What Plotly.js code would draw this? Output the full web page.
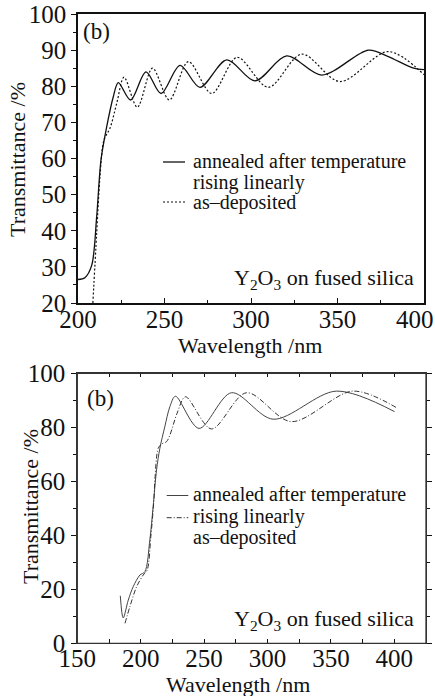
<!DOCTYPE html>
<html>
<head>
<meta charset="utf-8">
<script src="https://cdn.plot.ly/plotly-3.0.1.min.js"></script>
<style>html,body{margin:0;padding:0;background:#fff;}#chart{width:435px;height:696px;}</style>
</head>
<body>
<div id="chart"></div>
<script>
// ---- Panel 1 (top): Y2O3 on fused silica ----
const topAnnealedX = [200, 204, 207.9, 210.8, 213.3, 216.6, 220.4, 223.3, 230.4, 239.3, 248, 259, 270.5, 286, 302.3, 320.6, 340.9, 367.8, 379, 394, 400];
const topAnnealedY = [26.5, 27, 30.4, 43.9, 59.6, 68.8, 77.1, 81, 76.2, 84, 78, 85.8, 79.7, 87.3, 81.5, 88.4, 83.1, 90, 88.3, 85.0, 84.6];
const topDepositedX = [208.6, 210.8, 212.7, 215, 218.5, 222.4, 226.6, 234.3, 243.1, 252.8, 263.8, 277.3, 292, 310, 329.3, 351.4, 379.4, 400];
const topDepositedY = [20, 39.3, 55, 65.1, 68.4, 75.3, 82.5, 74.2, 85, 76.2, 86.8, 78, 88, 79.7, 88.9, 81.3, 89.6, 83.2];

// ---- Panel 2 (bottom) ----
const botAnnealedX = [183.9, 186.2, 190.2, 194.1, 199.4, 203.3, 207.2, 209.8, 212.5, 215.1, 219, 223, 227.4, 246, 271.6, 304.4, 354.2, 400.2];
const botAnnealedY = [17.6, 9.4, 16, 21, 25.3, 26.5, 38.3, 50.6, 64.2, 72.2, 80.2, 87.6, 91.5, 79.6, 92.8, 83, 93.4, 85.8];
const botDepositedX = [187.6, 191.5, 196.8, 202, 205.1, 208, 210.4, 211.2, 213.8, 216.5, 220.4, 223, 228.7, 235.3, 255.8, 283.4, 318.8, 367.3, 402.3];
const botDepositedY = [7.4, 13.6, 21, 25.3, 27.1, 39.5, 53.1, 60.5, 72.2, 73.8, 74.7, 77.1, 85.2, 91.3, 79.4, 92.8, 82.1, 93.4, 87.1];

// ---- Tick labels ----
const topXTickVals = [200, 250, 300, 350, 400];
const topXTickText = ["200", "250", "300", "350", "400\u00a0\u00a0\u00a0"];
const topYTickVals = [20, 30, 40, 50, 60, 70, 80, 90, 100];
const botXTickVals = [150, 200, 250, 300, 350, 400];
const botYTickVals = [0, 20, 40, 60, 80, 100];

// ---- Text ----
const legendTop = ["annealed after temperature", "rising linearly", "as\u2013deposited"];
const legendBot = ["annealed after temperature", "rising linearly", "as\u2013deposited"];
const panelLabel = "(b)";
const sampleLabel = "Y<sub>2</sub>O<sub>3</sub> on fused silica";
const xTitle = "Wavelength /nm";
const yTitle = "Transmittance /%";

const FONT = "'Times New Roman', serif";
const INK = "#111";
const P = (px) => px / 435;
const Q = (py) => 1 - py / 696;

function axis(extra) {
  return Object.assign({showline: true, linecolor: INK, linewidth: 1.5, showgrid: false, zeroline: false,
    tickcolor: INK, tickwidth: 1.2, tickfont: {family: FONT, size: 25, color: INK}, ticklabeloverflow: 'allow'}, extra);
}

const traces = [
  {x: topAnnealedX, y: topAnnealedY, xaxis: 'x', yaxis: 'y', mode: 'lines',
   line: {color: INK, width: 1.3, shape: 'spline', smoothing: 0.9}},
  {x: topDepositedX, y: topDepositedY, xaxis: 'x', yaxis: 'y', mode: 'lines',
   line: {color: INK, width: 1.2, dash: '2px,2px', shape: 'spline', smoothing: 0.9}},
  {x: botAnnealedX, y: botAnnealedY, xaxis: 'x2', yaxis: 'y2', mode: 'lines',
   line: {color: '#444', width: 1, shape: 'spline', smoothing: 0.9}},
  {x: botDepositedX, y: botDepositedY, xaxis: 'x2', yaxis: 'y2', mode: 'lines',
   line: {color: '#333', width: 1, dash: '5px,2px,1px,2px', shape: 'spline', smoothing: 0.9}}
];

function ann(x, y, text, size, xanchor, extra) {
  return Object.assign({xref: 'paper', yref: 'paper', x: P(x), y: Q(y), text: text, showarrow: false,
    xanchor: xanchor, yanchor: 'middle', font: {family: FONT, size: size, color: INK}}, extra || {});
}

const layout = {
  width: 435, height: 696,
  margin: {l: 0, r: 0, t: 0, b: 0},
  showlegend: false,
  font: {family: FONT, color: INK},
  xaxis: axis({domain: [P(78), P(424)], anchor: 'y', range: [200, 400], tickmode: 'array', tickvals: topXTickVals, ticktext: topXTickText,
    ticks: 'inside', ticklen: 5, mirror: true, ticklabelstandoff: -7,
    minor: {dtick: 25, tick0: 200, ticks: 'inside', ticklen: 3, tickcolor: INK, tickwidth: 1.2}}),
  yaxis: axis({domain: [Q(303), Q(14)], anchor: 'x', range: [20, 100], tickmode: 'array', tickvals: topYTickVals,
    ticks: 'outside', ticklen: 5, mirror: true, minor: {dtick: 5, tick0: 20, ticks: 'outside', ticklen: 3, tickcolor: INK, tickwidth: 1.2}}),
  xaxis2: axis({domain: [P(77.3), P(426)], anchor: 'y2', range: [150, 425], tickmode: 'array', tickvals: botXTickVals,
    ticks: 'inside', ticklen: 4, mirror: 'allticks', linecolor: '#333', linewidth: 1.3, ticklabelstandoff: -7,
    minor: {dtick: 25, tick0: 150, ticks: 'inside', ticklen: 4, tickcolor: INK, tickwidth: 1.2}}),
  yaxis2: axis({domain: [Q(643.3), Q(373.3)], anchor: 'x2', range: [0, 100], tickmode: 'array', tickvals: botYTickVals,
    ticks: 'outside', ticklen: 5, mirror: 'allticks', linecolor: '#333', linewidth: 1.3, ticklabelstandoff: 1,
    minor: {dtick: 10, tick0: 0, ticks: 'outside', ticklen: 3, tickcolor: INK, tickwidth: 1.2}}),
  annotations: [
    ann(249.5, 345, xTitle, 22, 'center'),
    ann(18, 160, yTitle, 22, 'center', {textangle: -90}),
    ann(237.5, 684, xTitle, 22, 'center'),
    ann(30, 507, yTitle, 22, 'center', {textangle: -90}),
    ann(81, 32, panelLabel, 23, 'left'),
    ann(85, 398, panelLabel, 23, 'left'),
    ann(232, 279, sampleLabel, 22, 'left'),
    ann(232, 620, sampleLabel, 22, 'left'),
    ann(191, 162, legendTop[0], 20, 'left'),
    ann(191, 182, legendTop[1], 20, 'left'),
    ann(191, 202, legendTop[2], 20, 'left'),
    ann(191, 495, legendBot[0], 20, 'left'),
    ann(191, 516.5, legendBot[1], 20, 'left'),
    ann(191, 537.5, legendBot[2], 20, 'left')
  ],
  shapes: [
    {type: 'rect', xref: 'x2 domain', yref: 'y2 domain', x0: 0, x1: 1, y0: 0, y1: 1, line: {color: '#333', width: 1.3}, layer: 'above'},
    {type: 'line', xref: 'paper', yref: 'paper', x0: P(163), x1: P(185), y0: Q(162), y1: Q(162), line: {color: INK, width: 1.3}},
    {type: 'line', xref: 'paper', yref: 'paper', x0: P(163), x1: P(185), y0: Q(202), y1: Q(202), line: {color: INK, width: 1.2, dash: '2px,2px'}},
    {type: 'line', xref: 'paper', yref: 'paper', x0: P(166.7), x1: P(188.3), y0: Q(495.5), y1: Q(495.5), line: {color: '#444', width: 1}},
    {type: 'line', xref: 'paper', yref: 'paper', x0: P(166.7), x1: P(188.3), y0: Q(517.7), y1: Q(517.7), line: {color: '#333', width: 1, dash: '5px,2px,1px,2px'}}
  ]
};

Plotly.newPlot('chart', traces, layout, {displayModeBar: false});
</script>
</body>
</html>
